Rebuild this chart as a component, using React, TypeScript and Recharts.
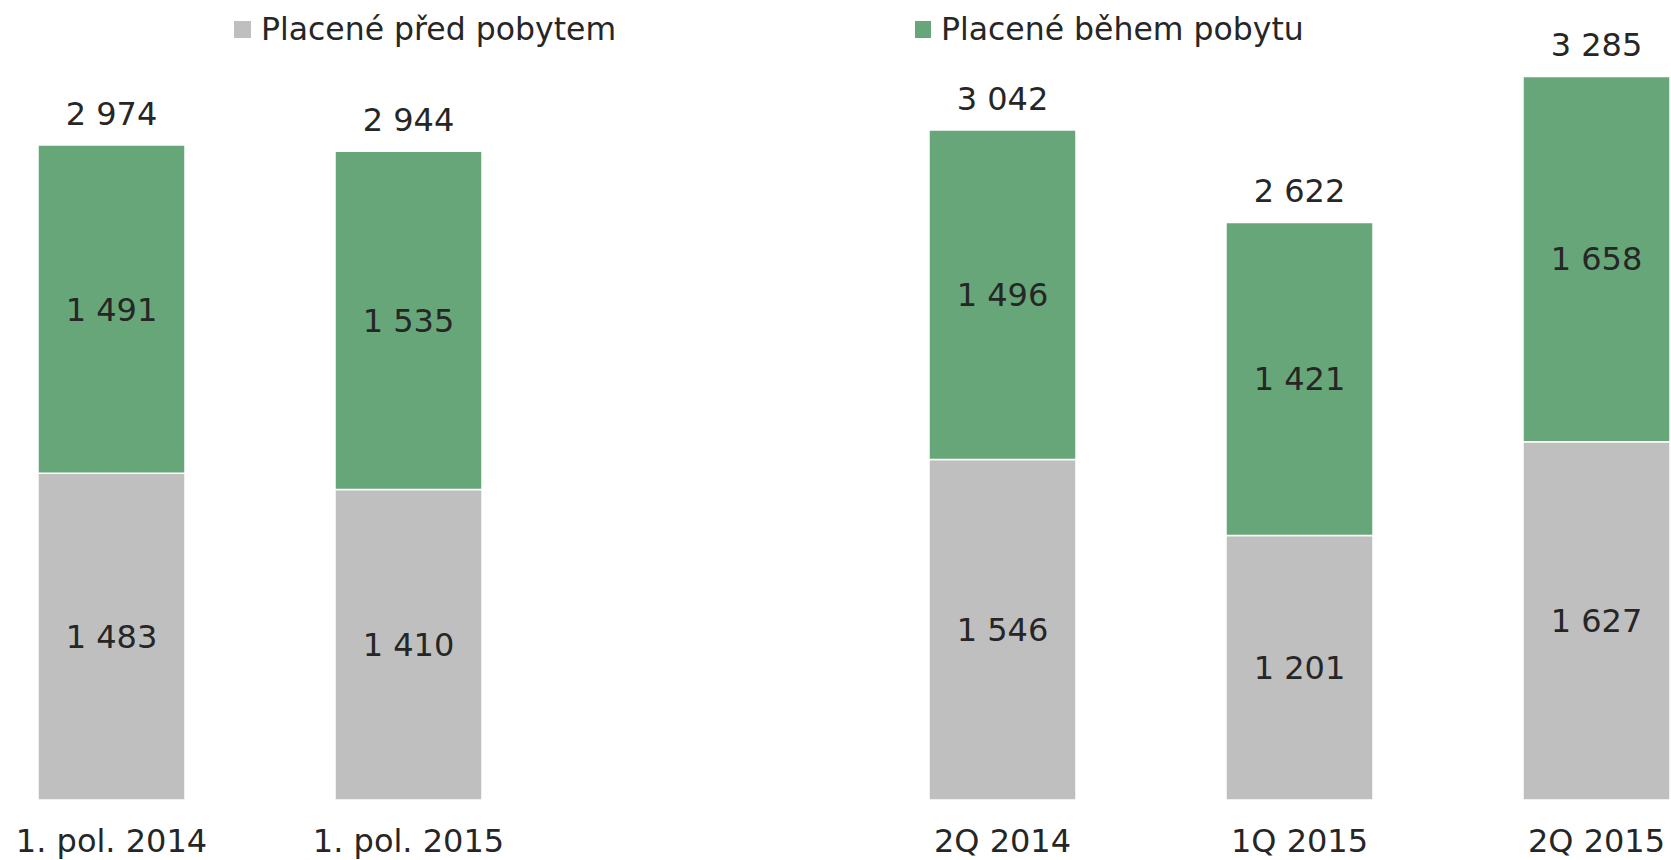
import { BarChart, Bar, XAxis, YAxis, LabelList } from 'recharts';

const categories = ['1. pol. 2014', '1. pol. 2015', '', '2Q 2014', '1Q 2015', '2Q 2015'];
const paidBefore = [1483, 1410, null, 1546, 1201, 1627];
const paidDuring = [1491, 1535, null, 1496, 1421, 1658];
const totals = [2974, 2944, null, 3042, 2622, 3285];

const SERIES = [
  { key: 'before', name: 'Placené před pobytem', color: '#bfbfbf' },
  { key: 'during', name: 'Placené během pobytu', color: '#67a679' },
];

const TEXT = '#262626';
const FONT = '"DejaVu Sans", Verdana, sans-serif';

const data = categories.map((name, i) => ({
  name,
  before: paidBefore[i],
  during: paidDuring[i],
  total: totals[i],
}));

const fmt = (v: number | null | undefined) =>
  v == null ? '' : String(v).replace(/\B(?=(\d{3})+(?!\d))/g, ' ');

const TotalLabel = (props: any) => {
  const { x, y, width, value } = props;
  if (value == null) return null;
  return (
    <text x={x + width / 2} y={y - 20} textAnchor="middle" fill={TEXT} fontSize={32} fontFamily={FONT}>
      {fmt(value)}
    </text>
  );
};

const CategoryTick = (props: any) => {
  const { x, y, payload } = props;
  if (!payload.value) return null;
  return (
    <text x={x} y={y + 44} textAnchor="middle" fill={TEXT} fontSize={32} fontFamily={FONT}>
      {payload.value}
    </text>
  );
};

// legend placement: [marker left, marker width, text left]
const legendPos = [
  [234, 17, 261],
  [915, 16, 941],
];

export default function App() {
  return (
    <div style={{ position: 'absolute', left: 0, top: 0, width: 1671, height: 860, overflow: 'hidden', background: '#fff' }}>
      <div style={{ position: 'absolute', left: -37, top: 0 }}>
        <BarChart width={1782} height={860} data={data} margin={{ top: 0, right: 0, bottom: 0, left: 0 }}>
          <XAxis
            dataKey="name"
            axisLine={false}
            tickLine={false}
            interval={0}
            height={60}
            tick={<CategoryTick />}
          />
          <YAxis hide domain={[0, 3632]} allowDataOverflow />
          <Bar dataKey="before" stackId="a" fill={SERIES[0].color} stroke="#fff" strokeWidth={1.5} barSize={147} isAnimationActive={false}>
            <LabelList dataKey="before" position="center" formatter={fmt} fill={TEXT} fontSize={32} fontFamily={FONT} />
          </Bar>
          <Bar dataKey="during" stackId="a" fill={SERIES[1].color} stroke="#fff" strokeWidth={1.5} barSize={147} isAnimationActive={false}>
            <LabelList dataKey="during" position="center" formatter={fmt} fill={TEXT} fontSize={32} fontFamily={FONT} />
            <LabelList dataKey="total" content={<TotalLabel />} />
          </Bar>
        </BarChart>
      </div>
      {SERIES.map((s, i) => (
        <div key={s.key}>
          <span
            style={{
              position: 'absolute',
              left: legendPos[i][0],
              top: 21,
              width: legendPos[i][1],
              height: 17,
              background: s.color,
            }}
          />
          <span
            style={{
              position: 'absolute',
              left: legendPos[i][2],
              top: 11,
              fontFamily: FONT,
              fontSize: 31.5,
              color: TEXT,
              whiteSpace: 'nowrap',
            }}
          >
            {s.name}
          </span>
        </div>
      ))}
    </div>
  );
}
